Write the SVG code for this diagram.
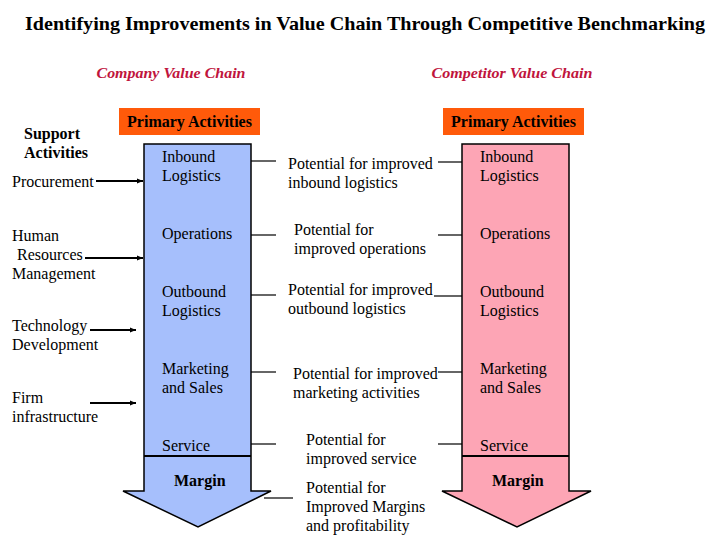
<svg xmlns="http://www.w3.org/2000/svg" width="720" height="540" viewBox="0 0 720 540">
<defs>
<marker id="ah" viewBox="0 0 10 10" refX="10" refY="5" markerWidth="6" markerHeight="6" markerUnits="userSpaceOnUse" orient="auto"><path d="M0,1 L10,5 L0,9 z" fill="#000"/></marker>
</defs>
<style>
text{font-family:'Liberation Serif','DejaVu Serif',serif;fill:#000;font-size:16px}
.title{font-size:19px;font-weight:bold}
.chain{font-size:15px;font-weight:bold;font-style:italic;fill:#C0143C}
.pa{font-size:16px;font-weight:bold}
.b{font-weight:bold}
.box{fill:#FF5A0A}
.blue{fill:#A6BFFC;stroke:#000;stroke-width:1.5}
.pink{fill:#FDA5B5;stroke:#000;stroke-width:1.5}
.ln{stroke:#000;stroke-width:1.2;fill:none}
.arr{stroke:#000;stroke-width:2;fill:none}
</style>
<rect width="720" height="540" fill="#fff"/>
<text class="title" x="365" y="30" text-anchor="middle" textLength="680" lengthAdjust="spacingAndGlyphs">Identifying Improvements in Value Chain Through Competitive Benchmarking</text>
<text class="chain" x="171" y="78" text-anchor="middle" textLength="149" lengthAdjust="spacingAndGlyphs">Company Value Chain</text>
<text class="chain" x="512" y="78" text-anchor="middle" textLength="161" lengthAdjust="spacingAndGlyphs">Competitor Value Chain</text>

<g id="company-chain">
<path class="blue" d="M144,144 H251 V491 H271 L198,527 L123,491 H144 Z"/>
<line class="ln" x1="144" y1="456" x2="251" y2="456" style="stroke-width:2"/>
<text x="162" y="162">Inbound</text><text x="162" y="181">Logistics</text>
<text x="162" y="239">Operations</text>
<text x="162" y="297">Outbound</text><text x="162" y="316">Logistics</text>
<text x="162" y="374">Marketing</text><text x="162" y="393">and Sales</text>
<text x="162" y="451">Service</text>
<text class="b" x="174" y="486">Margin</text>
</g>
<g id="company-primary">
<rect class="box" x="119" y="108" width="141" height="27"/>
<text class="pa" x="189.5" y="127" text-anchor="middle">Primary Activities</text>
</g>

<g id="competitor-chain">
<path class="pink" d="M462,144 H569 V491 H591 L517,527 L442,491 H462 Z"/>
<line class="ln" x1="462" y1="456" x2="569" y2="456" style="stroke-width:2"/>
<text x="480" y="162">Inbound</text><text x="480" y="181">Logistics</text>
<text x="480" y="239">Operations</text>
<text x="480" y="297">Outbound</text><text x="480" y="316">Logistics</text>
<text x="480" y="374">Marketing</text><text x="480" y="393">and Sales</text>
<text x="480" y="451">Service</text>
<text class="b" x="492" y="486">Margin</text>
</g>
<g id="competitor-primary">
<rect class="box" x="443" y="108" width="141" height="27"/>
<text class="pa" x="513.5" y="127" text-anchor="middle">Primary Activities</text>
</g>

<g id="support">
<text class="b" x="24" y="139">Support</text>
<text class="b" x="24" y="158">Activities</text>
<text x="12" y="187">Procurement</text>
<text x="12" y="241">Human</text>
<text x="17" y="260">Resources</text>
<text x="12" y="279">Management</text>
<text x="12" y="331">Technology</text>
<text x="12" y="350">Development</text>
<text x="12" y="403">Firm</text>
<text x="12" y="422">infrastructure</text>
</g>

<g id="potentials">
<text x="288" y="169">Potential for improved</text><text x="288" y="188">inbound logistics</text>
<text x="294" y="235">Potential for</text><text x="294" y="254">improved operations</text>
<text x="288" y="295">Potential for improved</text><text x="288" y="314">outbound logistics</text>
<text x="293" y="379">Potential for improved</text><text x="293" y="398">marketing activities</text>
<text x="306" y="445">Potential for</text><text x="306" y="464">improved service</text>
<text x="306" y="493">Potential for</text><text x="306" y="512">Improved Margins</text><text x="306" y="531">and profitability</text>
</g>

<g id="connectors">
<line class="arr" x1="96" y1="181" x2="143" y2="181" marker-end="url(#ah)"/>
<line class="arr" x1="85" y1="258" x2="143" y2="258" marker-end="url(#ah)"/>
<line class="arr" x1="90" y1="330" x2="136" y2="330" marker-end="url(#ah)"/>
<line class="arr" x1="90" y1="403" x2="136" y2="403" marker-end="url(#ah)"/>
<line class="ln" x1="251" y1="161" x2="276" y2="161"/>
<line class="ln" x1="251" y1="235" x2="276" y2="235"/>
<line class="ln" x1="251" y1="295" x2="276" y2="295"/>
<line class="ln" x1="251" y1="372" x2="276" y2="372"/>
<line class="ln" x1="251" y1="444" x2="276" y2="444"/>
<line class="ln" x1="264" y1="498" x2="293" y2="498"/>
<line class="ln" x1="438" y1="162" x2="462" y2="162"/>
<line class="ln" x1="438" y1="235" x2="462" y2="235"/>
<line class="ln" x1="434" y1="296" x2="462" y2="296"/>
<line class="ln" x1="438" y1="372" x2="462" y2="372"/>
<line class="ln" x1="438" y1="444" x2="462" y2="444"/>
</g>
</svg>
